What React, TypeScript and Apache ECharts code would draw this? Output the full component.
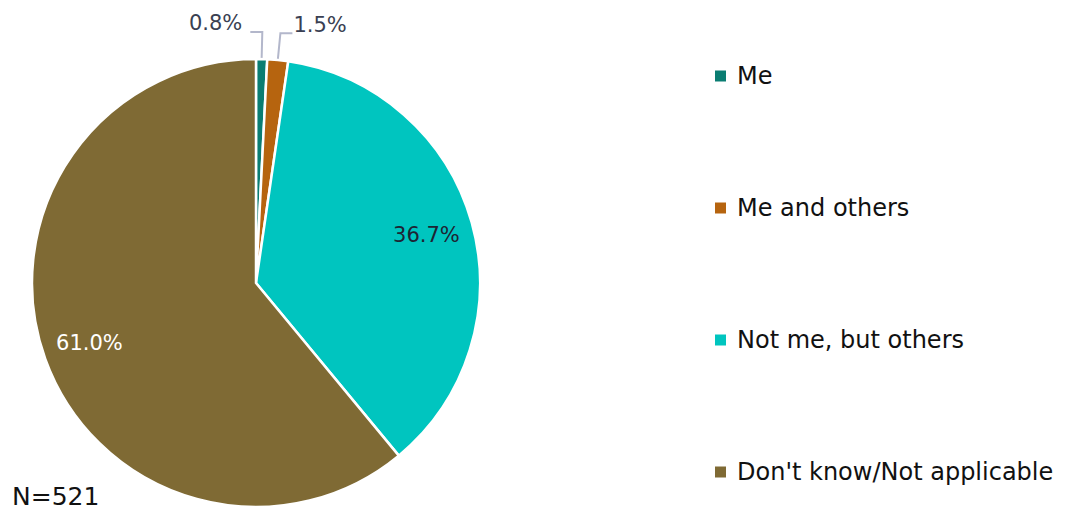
import React, { useEffect, useRef } from "react";
import * as echarts from "echarts";

const categories = ["Me", "Me and others", "Not me, but others", "Don't know/Not applicable"];
const values = [0.8, 1.5, 36.7, 61.0];
const colors = ["#0a7d72", "#b6640f", "#00c5bf", "#7f6a34"];
const sampleNote = "N=521";

const FONT = "DejaVu Sans";

export default function App() {
  const ref = useRef<HTMLDivElement>(null);
  useEffect(() => {
    if (!ref.current) return;
    const chart = echarts.init(ref.current, undefined, { renderer: "svg" });
    const mainData = categories.map((name, i) => ({
      name,
      value: values[i],
      itemStyle: { color: colors[i] },
      label: { show: i < 2 },
      labelLine: { show: i < 2 },
    }));
    const overlayData = categories.map((name, i) => ({
      name,
      value: values[i],
      label: {
        show: i >= 2,
        color: i === 3 ? "#ffffff" : "#1e2433",
      },
    }));
    chart.setOption({
      animation: false,
      title: {
        text: sampleNote,
        left: 12,
        top: 484,
        textStyle: { fontFamily: FONT, fontSize: 25, fontWeight: "normal", color: "#111111" },
        padding: 0,
      },
      legend: {
        orient: "vertical",
        left: 713,
        top: 64,
        padding: 0,
        itemWidth: 13,
        itemHeight: 13,
        itemGap: 108,
        icon: "rect",
        data: categories,
        textStyle: {
          fontFamily: FONT,
          fontSize: 24,
          lineHeight: 24,
          color: "#111111",
          padding: [0, 0, 0, 5],
        },
      },
      series: [
        {
          type: "pie",
          center: [256, 283],
          radius: 224,
          startAngle: 90,
          clockwise: true,
          avoidLabelOverlap: false,
          itemStyle: { borderColor: "#ffffff", borderWidth: 2.5 },
          label: {
            position: "outside",
            fontFamily: FONT,
            fontSize: 21,
            color: "#3a3f52",
            formatter: (p: any) => `${p.value.toFixed(1)}%`,
          },
          labelLine: {
            length: 27,
            length2: 12,
            lineStyle: { color: "#b3b7cb", width: 2 },
          },
          labelLayout: (params: any) => {
            const pts = params.labelLinePoints;
            if (!pts) return {};
            const p0 = pts[0];
            const p1 = pts[1];
            if (params.dataIndex === 0) {
              const p2 = [p1[0] - 12, p1[1]];
              return {
                labelLinePoints: [p0, p1, p2],
                x: p2[0] - 8,
                y: p1[1] - 9,
                align: "right",
                verticalAlign: "middle",
              };
            }
            if (params.dataIndex === 1) {
              const p2 = [p1[0] + 12, p1[1]];
              return {
                labelLinePoints: [p0, p1, p2],
                x: p2[0] + 1,
                y: p1[1] - 8,
                align: "left",
                verticalAlign: "middle",
              };
            }
            return {};
          },
          emphasis: { disabled: true },
          data: mainData,
        },
        {
          type: "pie",
          center: [256, 283],
          radius: [124, 224],
          startAngle: 90,
          clockwise: true,
          silent: true,
          avoidLabelOverlap: false,
          itemStyle: { color: "rgba(0,0,0,0)", borderWidth: 0 },
          label: {
            position: "inside",
            fontFamily: FONT,
            fontSize: 21,
            formatter: (p: any) => `${p.value.toFixed(1)}%`,
          },
          labelLine: { show: false },
          emphasis: { disabled: true },
          data: overlayData,
        },
      ],
    });
    return () => chart.dispose();
  }, []);
  return (
    <div
      ref={ref}
      style={{ position: "fixed", left: 0, top: 0, width: 1075, height: 512, background: "#ffffff" }}
    />
  );
}
